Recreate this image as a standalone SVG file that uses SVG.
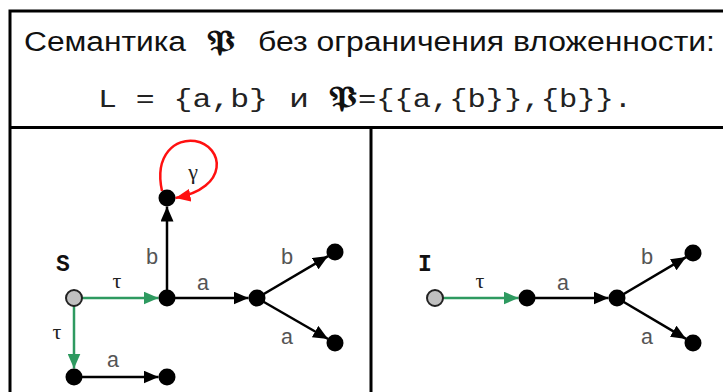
<svg xmlns="http://www.w3.org/2000/svg" width="723" height="392" viewBox="0 0 723 392">
  <style>
    .frame { fill: none; stroke: #000; stroke-width: 3; }
    .title { font-family: "Liberation Sans", Arial, sans-serif; font-size: 27px; fill: #111; }
    .mono { font-family: "Liberation Mono", "Courier New", monospace; font-size: 26px; fill: #222; }
    .frak { font-family: "DejaVu Serif", "DejaVu Sans", "Noto Sans", serif; font-size: 28px; font-weight: bold; fill: #111; }
    .node { fill: #000; }
    .start { fill: #c0c0c0; stroke: #222; stroke-width: 2; }
    .e { fill: none; stroke: #000; stroke-width: 2.5; }
    .g { fill: none; stroke: #2e9a60; stroke-width: 2.5; }
    .r { fill: none; stroke: #ff1010; stroke-width: 2.5; }
    .lbl { font-family: "Liberation Mono", "Courier New", monospace; font-size: 22px; fill: #555; text-anchor: middle; }
    .grk { font-family: "Liberation Serif", "Times New Roman", serif; font-size: 22px; fill: #222; text-anchor: middle; }
    .nm { font-family: "Liberation Mono", "Courier New", monospace; font-size: 23px; font-weight: bold; fill: #111; text-anchor: middle; }
  </style>
  <defs>
    <marker id="ak" markerUnits="userSpaceOnUse" markerWidth="15" markerHeight="13" refX="15" refY="6.5" orient="auto">
      <path d="M0,0 L15,6.5 L0,13 z" fill="#000"/>
    </marker>
    <marker id="ag" markerUnits="userSpaceOnUse" markerWidth="15" markerHeight="13" refX="15" refY="6.5" orient="auto">
      <path d="M0,0 L15,6.5 L0,13 z" fill="#2e9a60"/>
    </marker>
    <marker id="ar" markerUnits="userSpaceOnUse" markerWidth="15" markerHeight="13" refX="15" refY="6.5" orient="auto">
      <path d="M0,0 L15,6.5 L0,13 z" fill="#ff1010"/>
    </marker>
  </defs>
  <rect width="723" height="392" fill="#fff"/>

  <g id="frame">
    <path class="frame" d="M10,400 L10,11 L730,11"/>
    <path class="frame" d="M10,127.5 L730,127.5"/>
    <path class="frame" d="M371,127.5 L371,400"/>
  </g>

  <g id="header">
    <text class="title" x="24" y="51" textLength="162" lengthAdjust="spacingAndGlyphs">Семантика</text>
    <text class="frak" x="207" y="51" textLength="28" lengthAdjust="spacingAndGlyphs">𝔓</text>
    <text class="title" x="258" y="51" textLength="457" lengthAdjust="spacingAndGlyphs">без ограничения вложенности:</text>
    <text class="mono" x="98" y="107" textLength="170" lengthAdjust="spacingAndGlyphs">L = {a,b}</text>
    <text class="mono" x="289" y="107" textLength="20" lengthAdjust="spacingAndGlyphs">и</text>
    <text class="frak" x="329" y="107" textLength="28" lengthAdjust="spacingAndGlyphs">𝔓</text>
    <text class="mono" x="358" y="107" textLength="274" lengthAdjust="spacingAndGlyphs">={{a,{b}},{b}}.</text>
  </g>

  <g id="connectors">
    <line class="g" x1="82" y1="298" x2="158.5" y2="298" marker-end="url(#ag)"/>
    <line class="g" x1="74" y1="306" x2="74" y2="368.5" marker-end="url(#ag)"/>
    <line class="e" x1="167" y1="298" x2="167" y2="206.5" marker-end="url(#ak)"/>
    <line class="e" x1="167" y1="298" x2="248.5" y2="298" marker-end="url(#ak)"/>
    <line class="e" x1="257" y1="298" x2="328.1" y2="256.1" marker-end="url(#ak)"/>
    <line class="e" x1="257" y1="298" x2="328.1" y2="339" marker-end="url(#ak)"/>
    <line class="e" x1="74" y1="377" x2="158.5" y2="377" marker-end="url(#ak)"/>
    <path class="r" d="M162,191 C154,154 176,138 195,141 C224,146 230,188 175.5,198" marker-end="url(#ar)"/>

    <line class="g" x1="443" y1="298" x2="518.5" y2="298" marker-end="url(#ag)"/>
    <line class="e" x1="527" y1="298" x2="608.5" y2="298" marker-end="url(#ak)"/>
    <line class="e" x1="617" y1="298" x2="686.1" y2="257.1" marker-end="url(#ak)"/>
    <line class="e" x1="617" y1="298" x2="686.1" y2="338.9" marker-end="url(#ak)"/>
  </g>

  <g id="labels">
    <text class="grk" x="117" y="288">τ</text>
    <text class="grk" x="57" y="339">τ</text>
    <text class="lbl" x="152" y="264">b</text>
    <text class="lbl" x="203" y="290">a</text>
    <text class="lbl" x="287" y="264">b</text>
    <text class="lbl" x="287" y="344">a</text>
    <text class="lbl" x="113" y="367">a</text>
    <text class="grk" x="193" y="179">γ</text>
    <text class="grk" x="480" y="288">τ</text>
    <text class="lbl" x="563" y="290">a</text>
    <text class="lbl" x="647" y="264">b</text>
    <text class="lbl" x="647" y="344">a</text>
  </g>

  <g id="S"><circle class="start" cx="74" cy="298" r="8"/><text class="nm" x="63" y="271">S</text></g>
  <g id="n1"><circle class="node" cx="167" cy="298" r="8.5"/></g>
  <g id="n2"><circle class="node" cx="167" cy="198" r="8.5"/></g>
  <g id="n3"><circle class="node" cx="257" cy="298" r="8.5"/></g>
  <g id="n4"><circle class="node" cx="335" cy="252" r="8.5"/></g>
  <g id="n5"><circle class="node" cx="335" cy="343" r="8.5"/></g>
  <g id="n6"><circle class="node" cx="74" cy="377" r="8.5"/></g>
  <g id="n7"><circle class="node" cx="167" cy="377" r="8.5"/></g>

  <g id="I"><circle class="start" cx="435" cy="298" r="8"/><text class="nm" x="425" y="271">I</text></g>
  <g id="m1"><circle class="node" cx="527" cy="298" r="8.5"/></g>
  <g id="m2"><circle class="node" cx="617" cy="298" r="8.5"/></g>
  <g id="m3"><circle class="node" cx="693" cy="253" r="8.5"/></g>
  <g id="m4"><circle class="node" cx="693" cy="343" r="8.5"/></g>
</svg>
